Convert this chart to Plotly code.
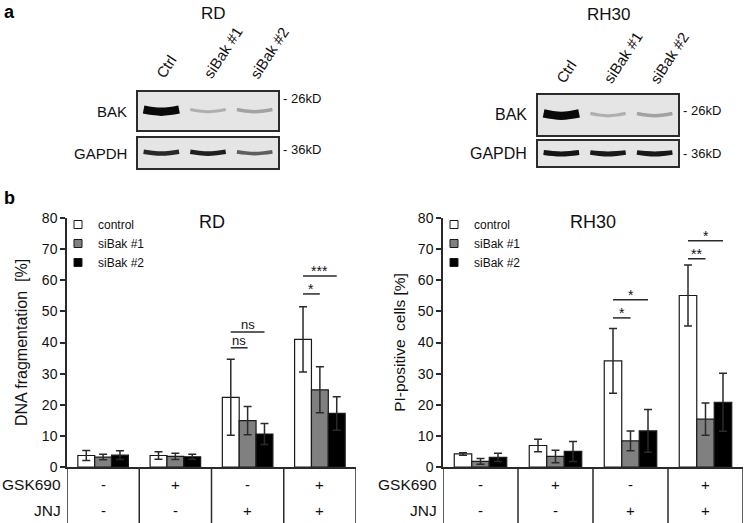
import plotly.graph_objects as go

W, H = 746, 523
FONT = "Liberation Sans, Arial, sans-serif"
INK = "#2a2a2a"

# ---------------- data ----------------
lanes = ["Ctrl", "siBak #1", "siBak #2"]
rd_bak = [1.0, 0.22, 0.28]
rd_gapdh = [0.85, 0.9, 0.6]
rh30_bak = [1.0, 0.22, 0.28]
rh30_gapdh = [0.95, 0.93, 0.93]

groups = [0, 1, 2, 3]
gsk690 = ["-", "+", "-", "+"]
jnj = ["-", "-", "+", "+"]
series = ["control", "siBak #1", "siBak #2"]
series_colors = ["#ffffff", "#808080", "#000000"]

rd_control = [3.7, 3.7, 22.4, 41.0]
rd_control_err = [1.6, 1.2, 12.2, 10.5]
rd_sibak1 = [3.2, 3.4, 14.9, 24.8]
rd_sibak1_err = [0.9, 1.0, 4.5, 7.4]
rd_sibak2 = [3.8, 3.3, 10.6, 17.2]
rd_sibak2_err = [1.4, 0.8, 3.4, 5.4]

rh30_control = [4.2, 6.9, 34.1, 55.1]
rh30_control_err = [0.4, 2.0, 10.4, 9.8]
rh30_sibak1 = [1.8, 3.4, 8.4, 15.4]
rh30_sibak1_err = [0.9, 2.0, 3.2, 5.2]
rh30_sibak2 = [3.1, 5.0, 11.6, 20.8]
rh30_sibak2_err = [1.3, 3.2, 6.9, 9.3]

# significance brackets: group, compared series index (vs control), height, label
rd_sig_group = [2, 2, 3, 3]
rd_sig_to = [1, 2, 1, 2]
rd_sig_y = [38.3, 43.4, 55.6, 61.4]
rd_sig_label = ["ns", "ns", "*", "***"]
rh30_sig_group = [2, 2, 3, 3]
rh30_sig_to = [1, 2, 1, 2]
rh30_sig_y = [47.9, 53.7, 66.9, 72.7]
rh30_sig_label = ["*", "*", "**", "*"]

y_ticks = [0, 10, 20, 30, 40, 50, 60, 70, 80]

# ---------------- helpers ----------------
def px_x(p):
    return p / W


def px_y(p):
    return 1 - p / H


fig = go.Figure()
annotations = []
shapes = []

BARGAP = 0.3
BW = (1 - BARGAP) / 3


def bar_panel(idx, title, vals, errs, sig_g, sig_to, sig_y, sig_lab, dom_x, legend_name):
    xa = "x" if idx == 1 else f"x{idx}"
    ya = "y" if idx == 1 else f"y{idx}"
    for s, (name, v, e, c) in enumerate(zip(series, vals, errs, series_colors)):
        fig.add_trace(go.Bar(
            x=groups, y=v, name=name, xaxis=xa, yaxis=ya,
            marker=dict(color=c, line=dict(color="#1a1a1a", width=1.2)),
            error_y=dict(type="data", array=e, color=INK, thickness=1.5, width=4),
            showlegend=False, offsetgroup=str(s),
        ))
        # legend entry (small square symbol)
        fig.add_trace(go.Scatter(
            x=[None], y=[None], mode="markers", name=name, xaxis=xa, yaxis=ya,
            marker=dict(symbol="square", size=8, color=c, line=dict(color="#1a1a1a", width=1)),
            legend=legend_name, showlegend=True,
        ))
    # significance brackets
    for g, t, yy, lab in zip(sig_g, sig_to, sig_y, sig_lab):
        x0 = g - BW
        x1 = g + (t - 1) * BW
        fig.add_trace(go.Scatter(
            x=[x0, x1], y=[yy, yy], mode="lines", xaxis=xa, yaxis=ya,
            line=dict(color=INK, width=1.5), showlegend=False, hoverinfo="skip",
        ))
        annotations.append(dict(
            x=(x0 + x1) / 2, y=yy, xref=xa, yref=ya, text=lab, showarrow=False,
            xanchor="center", yanchor="bottom", yshift=-2 if lab == "ns" else -5,
            font=dict(family=FONT, size=13 if lab == "ns" else 14, color="#111"),
        ))
    # title
    annotations.append(dict(
        x=0.5, y=px_y(222), xref=f"{xa} domain", yref="paper", text=title,
        showarrow=False, font=dict(family=FONT, size=18, color="#111"),
        xanchor="center", yanchor="middle",
    ))
    # table below the axis
    bottom = px_y(467)
    for b in [groups[0] - 0.5] + [g + 0.5 for g in groups]:
        shapes.append(dict(type="line", xref=xa, yref="paper", x0=b, x1=b,
                           y0=0, y1=bottom, line=dict(color=INK, width=1.5)))
    for g, a, b in zip(groups, gsk690, jnj):
        for sym, row in ((a, 484), (b, 510)):
            annotations.append(dict(
                x=g, y=px_y(row), xref=xa, yref="paper", text=sym, showarrow=False,
                xanchor="center", yanchor="middle",
                font=dict(family=FONT, size=15, color="#111"),
            ))
    for lab, row in (("GSK690", 484), ("JNJ", 510)):
        annotations.append(dict(
            x=dom_x[0], y=px_y(row), xref="paper", yref="paper", text=lab,
            showarrow=False, xanchor="right", yanchor="middle", xshift=-4,
            font=dict(family=FONT, size=15.5, color="#111"),
        ))


dom_y_bar = [px_y(467), px_y(218)]
dom_left = [px_x(67), px_x(356)]
dom_right = [px_x(443), px_x(743)]

bar_panel(1, "RD",
          [rd_control, rd_sibak1, rd_sibak2],
          [rd_control_err, rd_sibak1_err, rd_sibak2_err],
          rd_sig_group, rd_sig_to, rd_sig_y, rd_sig_label, dom_left, "legend")
bar_panel(2, "RH30",
          [rh30_control, rh30_sibak1, rh30_sibak2],
          [rh30_control_err, rh30_sibak1_err, rh30_sibak2_err],
          rh30_sig_group, rh30_sig_to, rh30_sig_y, rh30_sig_label, dom_right, "legend2")

axis_common_x = dict(range=[-0.5, 3.5], showticklabels=False, ticks="", showgrid=False,
                     zeroline=False, showline=True, linecolor=INK, linewidth=1.5,
                     fixedrange=True, automargin=False)
axis_common_y = dict(range=[0, 80], tickvals=y_ticks, ticks="outside", ticklen=5, tickwidth=1.5,
                     tickcolor=INK, showgrid=False, zeroline=False, showline=True,
                     linecolor=INK, linewidth=1.5, fixedrange=True, automargin=False,
                     tickfont=dict(family=FONT, size=14, color="#111"))

fig.update_layout(
    xaxis=dict(domain=dom_left, anchor="y", **axis_common_x),
    yaxis=dict(domain=dom_y_bar, anchor="x",
               title=dict(text="DNA fragmentation  [%]", standoff=10,
                          font=dict(family=FONT, size=16, color="#111")),
               **axis_common_y),
    xaxis2=dict(domain=dom_right, anchor="y2", **axis_common_x),
    yaxis2=dict(domain=dom_y_bar, anchor="x2",
                title=dict(text="PI-positive  cells [%]", standoff=8,
                           font=dict(family=FONT, size=15.5, color="#111")),
                **axis_common_y),
)

# ---------------- western blots ----------------
blot_boxes = {
    3: ([138, 278], [92, 130]),   # RD BAK
    4: ([138, 278], [138, 168]),  # RD GAPDH
    5: ([538, 678], [95, 135]),   # RH30 BAK
    6: ([538, 678], [141, 166]),  # RH30 GAPDH
}
blot_data = {3: rd_bak, 4: rd_gapdh, 5: rh30_bak, 6: rh30_gapdh}
blot_names = {3: "BAK", 4: "GAPDH", 5: "BAK", 6: "GAPDH"}
blot_kd = {3: ("- 26kD", 0.82), 4: ("- 36kD", 0.63), 5: ("- 26kD", 0.6), 6: ("- 36kD", 0.52)}
band_profile_dx = [-0.38, -0.19, 0.0, 0.19, 0.38]
band_profile_dy = [0.08, 0.0, -0.04, 0.0, 0.08]

for k, (bx, by) in blot_boxes.items():
    xa, ya = f"x{k}", f"y{k}"
    fig.update_layout(**{
        f"xaxis{k}": dict(domain=[px_x(bx[0]), px_x(bx[1])], anchor=ya, range=[0.5, 3.5],
                          showticklabels=False, ticks="", showgrid=False, zeroline=False,
                          showline=True, mirror=True, linecolor="#2b2b2b", linewidth=2,
                          fixedrange=True, automargin=False),
        f"yaxis{k}": dict(domain=[px_y(by[1]), px_y(by[0])], anchor=xa, range=[-1, 1],
                          showticklabels=False, ticks="", showgrid=False, zeroline=False,
                          showline=True, mirror=True, linecolor="#2b2b2b", linewidth=2,
                          fixedrange=True, automargin=False),
    })
    shapes.append(dict(type="rect", xref=f"{xa} domain", yref=f"{ya} domain",
                       x0=0, x1=1, y0=0, y1=1, fillcolor="#e5e5e5",
                       line=dict(width=0), layer="below"))
    for i, inten in enumerate(blot_data[k]):
        lane = i + 1
        g = int(222 - 212 * inten)
        width = 1.8 + (6.5 if k in (3, 5) else 3.2) * inten
        fig.add_trace(go.Scatter(
            x=[lane + d for d in band_profile_dx],
            y=list(band_profile_dy),
            mode="lines", line=dict(color=f"rgb({g},{g},{g})", width=width, shape="spline"),
            xaxis=xa, yaxis=ya, showlegend=False, hoverinfo="skip",
        ))
    annotations.append(dict(
        x=0, y=0.5, xref=f"{xa} domain", yref=f"{ya} domain", text=blot_names[k],
        showarrow=False, xanchor="right", yanchor="middle", xshift=-9,
        font=dict(family=FONT, size=15 if k in (3, 4) else 16, color="#111"),
    ))
    kd_text, kd_y = blot_kd[k]
    annotations.append(dict(
        x=1, y=kd_y, xref=f"{xa} domain", yref=f"{ya} domain", text=kd_text,
        showarrow=False, xanchor="left", yanchor="middle", xshift=3,
        font=dict(family=FONT, size=13, color="#111"),
    ))

# lane labels & blot titles
for k, title, ypx, shift, ys in ((3, "RD", 14, 5, 8), (5, "RH30", 15, 0, 6)):
    for i, lab in enumerate(lanes):
        annotations.append(dict(
            x=i + 1, y=1, xref=f"x{k}", yref=f"y{k} domain", text=lab, showarrow=False,
            textangle=-57, xanchor="left", yanchor="bottom", xshift=-11, yshift=ys,
            font=dict(family=FONT, size=15, color="#111"),
        ))
    annotations.append(dict(
        x=0.5, y=px_y(ypx), xref=f"x{k} domain", yref="paper", text=title,
        showarrow=False, xanchor="center", yanchor="middle", xshift=shift,
        font=dict(family=FONT, size=17, color="#111"),
    ))

# panel letters
annotations.append(dict(x=px_x(2), y=px_y(12), xref="paper", yref="paper", text="<b>a</b>",
                        showarrow=False, xanchor="left", yanchor="middle",
                        font=dict(family=FONT, size=18, color="#000")))
annotations.append(dict(x=px_x(2), y=px_y(198), xref="paper", yref="paper", text="<b>b</b>",
                        showarrow=False, xanchor="left", yanchor="middle",
                        font=dict(family=FONT, size=18, color="#000")))

legend_style = dict(font=dict(family=FONT, size=12, color="#111"), bgcolor="rgba(0,0,0,0)",
                    itemsizing="trace", tracegroupgap=0, xanchor="left", yanchor="top",
                    itemwidth=30)
fig.update_layout(
    width=W, height=H, margin=dict(l=0, r=0, t=0, b=0, pad=0, autoexpand=False),
    paper_bgcolor="white", plot_bgcolor="white",
    barmode="group", bargap=BARGAP, bargroupgap=0,
    showlegend=True,
    legend=dict(x=px_x(58), y=px_y(210), **legend_style),
    legend2=dict(x=px_x(434), y=px_y(210), **legend_style),
    annotations=annotations, shapes=shapes,
)

fig.write_html("out.html", config={"displayModeBar": False},
               post_script="document.body.style.margin='0';")
